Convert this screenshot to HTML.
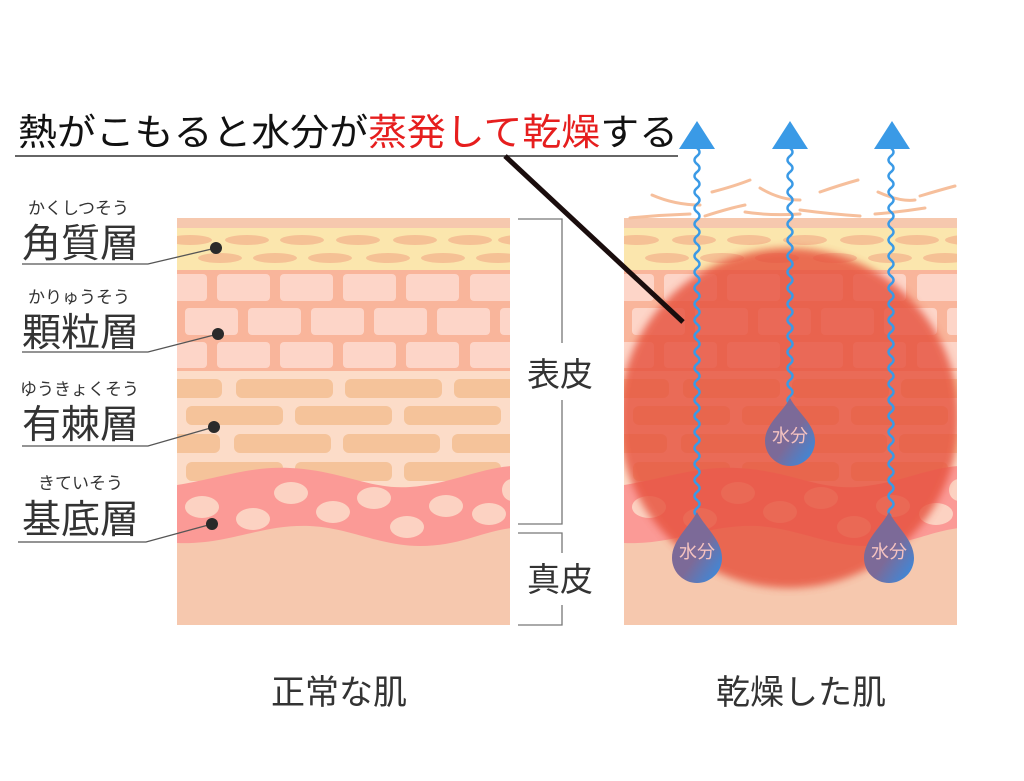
<!DOCTYPE html>
<html><head><meta charset="utf-8"><style>
html,body{margin:0;padding:0;background:#fff;}
svg{display:block;font-family:"Liberation Sans","Noto Sans CJK JP",sans-serif;}
</style></head><body>
<svg width="1024" height="781" viewBox="0 0 1024 781" xmlns="http://www.w3.org/2000/svg">
<defs>
<clipPath id="cl"><rect x="177" y="218" width="333" height="407"/></clipPath>
<clipPath id="cr"><rect x="624" y="218" width="333" height="407"/></clipPath>
<filter id="bl" x="-30%" y="-30%" width="160%" height="160%"><feGaussianBlur stdDeviation="4"/></filter>
<linearGradient id="dg" x1="0" y1="0" x2="1" y2="1"><stop offset="0.55" stop-color="#7c6a98"/><stop offset="1" stop-color="#2f8fe8"/></linearGradient>
<g id="skin">
 <rect x="177" y="218" width="333" height="407" fill="#f6c8ae"/>
 <rect x="177" y="228" width="333" height="42" fill="#fbe6ad"/>
 <g fill="#f5c195">
  <ellipse cx="190" cy="240" rx="22" ry="5"/><ellipse cx="247" cy="240" rx="22" ry="5"/><ellipse cx="302" cy="240" rx="22" ry="5"/><ellipse cx="358" cy="240" rx="22" ry="5"/><ellipse cx="415" cy="240" rx="22" ry="5"/><ellipse cx="470" cy="240" rx="22" ry="5"/><ellipse cx="520" cy="240" rx="22" ry="5"/>
  <ellipse cx="220" cy="258" rx="22" ry="5"/><ellipse cx="275" cy="258" rx="22" ry="5"/><ellipse cx="330" cy="258" rx="22" ry="5"/><ellipse cx="388" cy="258" rx="22" ry="5"/><ellipse cx="443" cy="258" rx="22" ry="5"/><ellipse cx="498" cy="258" rx="22" ry="5"/>
 </g>
 <rect x="177" y="270" width="333" height="101" fill="#f9b59b"/>
 <g fill="#fdd5c8">
  <rect x="170" y="274" width="37" height="27" rx="4"/><rect x="217" y="274" width="53" height="27" rx="4"/><rect x="280" y="274" width="53" height="27" rx="4"/><rect x="343" y="274" width="53" height="27" rx="4"/><rect x="406" y="274" width="53" height="27" rx="4"/><rect x="470" y="274" width="53" height="27" rx="4"/>
  <rect x="185" y="308" width="53" height="27" rx="4"/><rect x="248" y="308" width="53" height="27" rx="4"/><rect x="311" y="308" width="53" height="27" rx="4"/><rect x="374" y="308" width="53" height="27" rx="4"/><rect x="437" y="308" width="53" height="27" rx="4"/><rect x="500" y="308" width="53" height="27" rx="4"/>
  <rect x="170" y="342" width="37" height="26" rx="4"/><rect x="217" y="342" width="53" height="26" rx="4"/><rect x="280" y="342" width="53" height="26" rx="4"/><rect x="343" y="342" width="53" height="26" rx="4"/><rect x="406" y="342" width="53" height="26" rx="4"/><rect x="470" y="342" width="53" height="26" rx="4"/>
 </g>
 <rect x="177" y="371" width="333" height="120" fill="#fcdcc8"/>
 <g fill="#f5c39a">
  <rect x="170" y="379" width="52" height="19" rx="6"/><rect x="236" y="379" width="97" height="19" rx="6"/><rect x="345" y="379" width="97" height="19" rx="6"/><rect x="454" y="379" width="97" height="19" rx="6"/>
  <rect x="186" y="406" width="97" height="19" rx="6"/><rect x="295" y="406" width="97" height="19" rx="6"/><rect x="404" y="406" width="97" height="19" rx="6"/>
  <rect x="170" y="434" width="50" height="19" rx="6"/><rect x="234" y="434" width="97" height="19" rx="6"/><rect x="343" y="434" width="97" height="19" rx="6"/><rect x="452" y="434" width="97" height="19" rx="6"/>
  <rect x="186" y="462" width="97" height="19" rx="6"/><rect x="295" y="462" width="97" height="19" rx="6"/><rect x="404" y="462" width="97" height="19" rx="6"/>
 </g>
 <path d="M177,485 C220,478 250,466 290,468 C340,470 370,490 410,487 C450,484 480,468 512,466 L512,528 C480,532 460,546 420,546 C380,546 350,528 310,526 C260,524 230,545 177,543 Z" fill="#fb9a96"/>
 <g fill="#fcd2c2">
  <ellipse cx="202" cy="507" rx="17" ry="11"/><ellipse cx="253" cy="519" rx="17" ry="11"/><ellipse cx="291" cy="493" rx="17" ry="11"/><ellipse cx="333" cy="512" rx="17" ry="11"/><ellipse cx="374" cy="498" rx="17" ry="11"/><ellipse cx="407" cy="527" rx="17" ry="11"/><ellipse cx="446" cy="506" rx="17" ry="11"/><ellipse cx="489" cy="514" rx="17" ry="11"/><ellipse cx="512" cy="490" rx="10" ry="11"/>
 </g>
</g>
</defs>

<text x="18" y="145" font-size="37" fill="#111" textLength="660" lengthAdjust="spacingAndGlyphs">熱がこもると水分が<tspan fill="#e61e1e">蒸発して乾燥</tspan>する</text>
<line x1="15" y1="156" x2="678" y2="156" stroke="#333" stroke-width="1.5"/>

<g clip-path="url(#cl)"><use href="#skin"/></g>

<g clip-path="url(#cr)"><use href="#skin" transform="translate(447,0)"/>
 <circle cx="789" cy="418" r="170" fill="#e6503a" opacity="0.8" filter="url(#bl)"/>
</g>
<g fill="none" stroke="#f6bf9c" stroke-width="3" stroke-linecap="round">
 <path d="M652,195 Q675,205 700,205"/><path d="M712,192 Q735,186 750,180"/><path d="M760,188 Q780,200 800,200"/><path d="M820,192 Q840,185 858,180"/><path d="M878,192 Q900,202 915,200"/><path d="M920,196 Q940,190 955,186"/>
 <path d="M630,218 Q660,215 690,214"/><path d="M705,216 Q730,208 745,205"/><path d="M745,212 Q770,216 800,214"/><path d="M800,210 Q830,214 860,216"/><path d="M875,214 Q900,212 925,208"/>
</g>

<line x1="505" y1="156" x2="683" y2="322" stroke="#1a0d0d" stroke-width="5"/>

<g fill="#333">
 <text x="28" y="214" font-size="17">かくしつそう</text>
 <text x="22" y="257" font-size="39">角質層</text>
 <text x="28" y="303" font-size="17">かりゅうそう</text>
 <text x="22" y="346" font-size="39">顆粒層</text>
 <text x="20" y="395" font-size="17">ゆうきょくそう</text>
 <text x="22" y="438" font-size="39">有棘層</text>
 <text x="38" y="489" font-size="17">きていそう</text>
 <text x="22" y="533" font-size="39">基底層</text>
</g>
<g stroke="#555" stroke-width="1.3" fill="none">
 <polyline points="22,264 148,264 216,248"/>
 <polyline points="22,352 148,352 218,334"/>
 <polyline points="22,446 148,446 214,427"/>
 <polyline points="18,542 146,542 212,524"/>
</g>
<g fill="#2a2a2a">
 <circle cx="216" cy="248" r="6"/><circle cx="218" cy="334" r="6"/><circle cx="214" cy="427" r="6"/><circle cx="212" cy="524" r="6"/>
</g>

<g stroke="#777" stroke-width="1.3" fill="none">
 <polyline points="518,219 562,219 562,343"/>
 <polyline points="562,400 562,524 518,524"/>
 <polyline points="518,533 562,533 562,553"/>
 <polyline points="562,605 562,625 518,625"/>
</g>
<text x="527" y="386" font-size="33" fill="#333">表皮</text>
<text x="527" y="591" font-size="33" fill="#333">真皮</text>

<text x="271" y="704" font-size="34" fill="#333">正常な肌</text>
<text x="716" y="704" font-size="34" fill="#333">乾燥した肌</text>

<g fill="none" stroke="#3a9ae6" stroke-width="2.5">
 <path d="M697,148 q5,4 0,8 t0,8 t0,8 t0,8 t0,8 t0,8 t0,8 t0,8 t0,8 t0,8 t0,8 t0,8 t0,8 t0,8 t0,8 t0,8 t0,8 t0,8 t0,8 t0,8 t0,8 t0,8 t0,8 t0,8 t0,8 t0,8 t0,8 t0,8 t0,8 t0,8 t0,8 t0,8 t0,8 t0,8 t0,8 t0,8 t0,8 t0,8 t0,8 t0,8 t0,8 t0,8 t0,8 t0,8 t0,8 t0,8"/>
 <path d="M790,148 q5,4 0,8 t0,8 t0,8 t0,8 t0,8 t0,8 t0,8 t0,8 t0,8 t0,8 t0,8 t0,8 t0,8 t0,8 t0,8 t0,8 t0,8 t0,8 t0,8 t0,8 t0,8 t0,8 t0,8 t0,8 t0,8 t0,8 t0,8 t0,8 t0,8 t0,8 t0,8 t0,8"/>
 <path d="M891,148 q5,4 0,8 t0,8 t0,8 t0,8 t0,8 t0,8 t0,8 t0,8 t0,8 t0,8 t0,8 t0,8 t0,8 t0,8 t0,8 t0,8 t0,8 t0,8 t0,8 t0,8 t0,8 t0,8 t0,8 t0,8 t0,8 t0,8 t0,8 t0,8 t0,8 t0,8 t0,8 t0,8 t0,8 t0,8 t0,8 t0,8 t0,8 t0,8 t0,8 t0,8 t0,8 t0,8 t0,8 t0,8 t0,8 t0,8"/>
</g>
<g fill="#3a9ae6">
 <polygon points="697,121 679,149 715,149"/>
 <polygon points="790,121 772,149 808,149"/>
 <polygon points="892,121 874,149 910,149"/>
</g>
<g fill="url(#dg)">
 <path d="M697,512 C704,526 722,540 722,558 A25,25 0 0 1 672,558 C672,540 690,526 697,512 Z"/>
 <path d="M790,398 C797,412 815,424 815,441 A25,25 0 0 1 765,441 C765,424 783,412 790,398 Z"/>
 <path d="M889,512 C896,526 914,540 914,558 A25,25 0 0 1 864,558 C864,540 882,526 889,512 Z"/>
</g>
<g fill="#f4c2c0" font-size="18" text-anchor="middle">
 <text x="697" y="558">水分</text>
 <text x="790" y="442">水分</text>
 <text x="889" y="558">水分</text>
</g>
</svg>
</body></html>
